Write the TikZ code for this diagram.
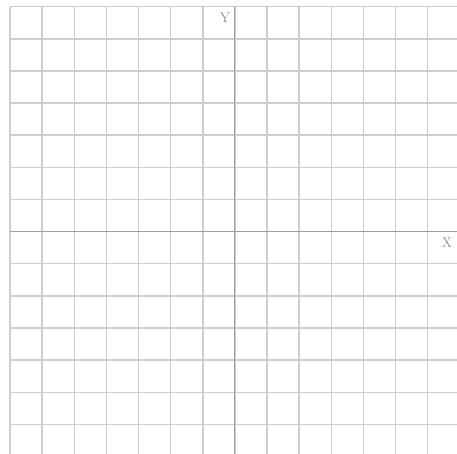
\documentclass[tikz,border=0pt]{standalone}
\usepackage{tikz}
\definecolor{gridgray}{HTML}{CDCDCD}
\definecolor{axisgray}{HTML}{A0A0A0}
\definecolor{labelgray}{HTML}{8C8C8C}
\tikzset{
  gridline/.style={draw=gridgray, line width=1.5pt},
  axisline/.style={draw=axisgray, line width=1.1pt},
  axislabel/.style={text=labelgray, font=\fontsize{14}{14}\selectfont, inner sep=0pt}
}
\begin{document}
\begin{tikzpicture}[x=1pt,y=-1pt]
\useasboundingbox (0,0) rectangle (457,454);
\fill[white] (0,0) rectangle (457,454);
% vertical grid lines
\foreach \k in {0,...,13}{
  \draw[gridline] ({10+32.13*\k},6.7) -- ({10+32.13*\k},454);
}
% horizontal grid lines
\foreach \k in {0,...,13}{
  \draw[gridline] (10,{6.7+32.13*\k}) -- (457,{6.7+32.13*\k});
}
% axes
\coordinate (yt) at (234.9,6.7);
\coordinate (yb) at (234.9,454);
\coordinate (xl) at (10,231.6);
\coordinate (xr) at (457,231.6);
\draw[axisline] (yt) -- (yb);
\draw[axisline] (xl) -- (xr);
\node[axislabel] (ylab) at (225,18) {Y};
\node[axislabel] (xlab) at (447,243) {X};
\end{tikzpicture}
\end{document}
